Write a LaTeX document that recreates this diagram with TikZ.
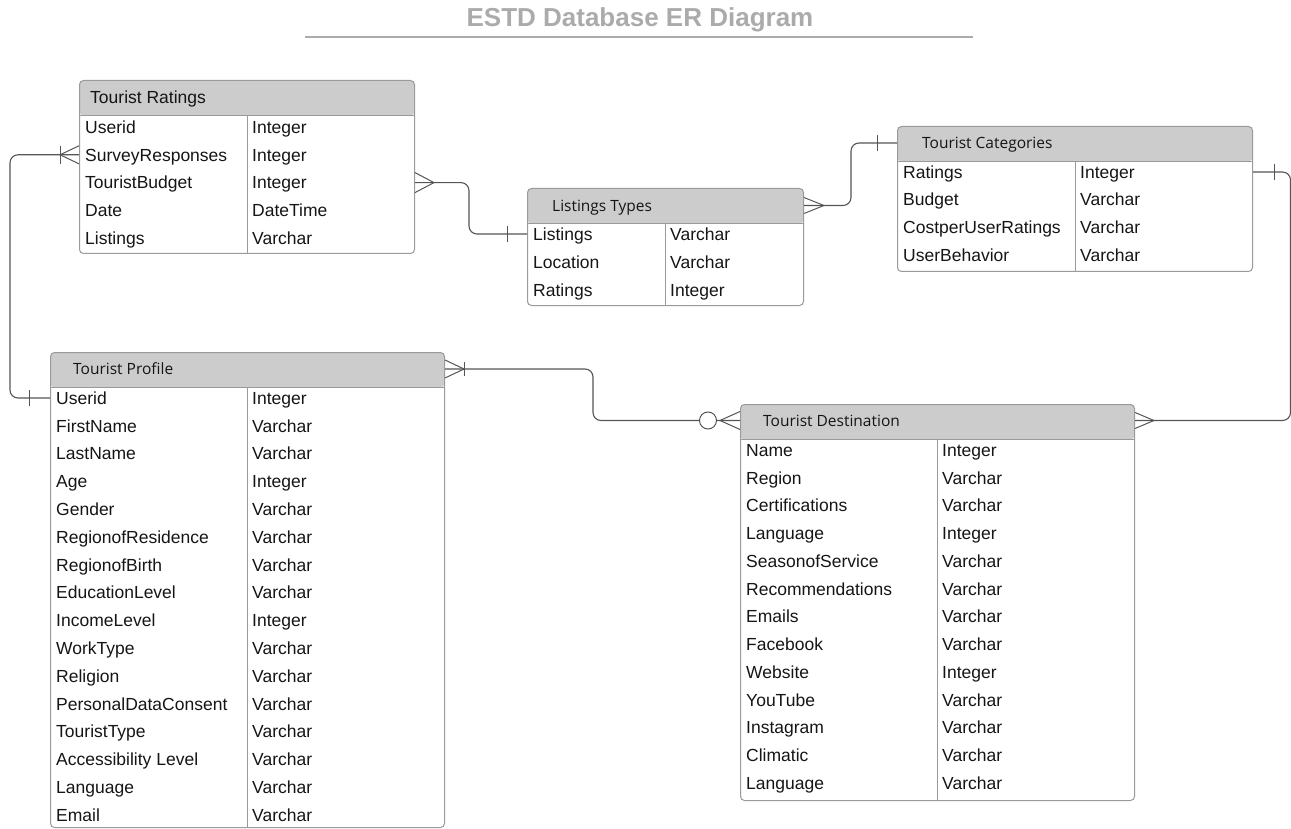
\documentclass[tikz,border=0pt]{standalone}
\usepackage{fontspec}
\setmainfont{Liberation Sans}
\newfontfamily\hdrfamily{Open Sans}
\usepackage{tikz}
\usetikzlibrary{calc}
\definecolor{er-head}{HTML}{CCCCCC}
\definecolor{er-border}{HTML}{9A9A9A}
\definecolor{er-link}{HTML}{555555}
\definecolor{er-title}{HTML}{ABABAB}
\definecolor{er-text}{HTML}{151515}

\tikzset{
  tblbox/.style={draw=er-border, line width=1pt, rounded corners=4pt, anchor=north west, inner sep=0pt,
    path picture={
      \fill[er-head] (path picture bounding box.north west) rectangle ([yshift=-35pt]path picture bounding box.north east);
      \draw[er-border, line width=1pt] ([yshift=-35pt]path picture bounding box.north west) -- ([yshift=-35pt]path picture bounding box.north east);
      \draw[er-border, line width=1pt] ([shift={(#1pt,-35pt)}]path picture bounding box.north west) -- ([xshift=#1pt]path picture bounding box.south west);
    }},
  fld/.style={anchor=west, inner sep=0pt, text height=13pt, text depth=0.5pt, text=er-text, font=\fontsize{17.5}{20}\selectfont},
  hdr/.style={anchor=west, inner sep=0pt, text height=12pt, text depth=0.5pt, text=er-text, font=\hdrfamily\fontsize{15.5}{18}\selectfont},
  link/.style={draw=er-link, line width=1.1pt, rounded corners=8pt},
  foot/.style={draw=er-link, line width=1pt},
}

\begin{document}
\begin{tikzpicture}[x=1pt, y=-1pt]
    \useasboundingbox (0,0) rectangle (1291,829);

    % title
    \node[text=er-title, font=\fontsize{26}{30}\selectfont\bfseries] (title) at (640,20) {ESTD Database ER Diagram};
    \draw[er-title, line width=1.5pt] (305,37) -- (973,37);

    % Tourist Ratings
    \node[tblbox=168, minimum width=335pt, minimum height=173pt] (ratings) at (79,80) {};
    \node[fld] (tr-title) at (90,97.5) {Tourist Ratings};
    \foreach \f/\t [count=\i] in {Userid/Integer, SurveyResponses/Integer, TouristBudget/Integer, Date/DateTime, Listings/Varchar}{
        \node[fld] (tr\i) at (85,127+27.8*\i-27.8) {\f};
        \node[fld] (trt\i) at (252,127+27.8*\i-27.8) {\t};
    }

    % Listings Types
    \node[tblbox=138, minimum width=276pt, minimum height=117pt] (listings) at (527,188) {};
    \node[hdr] (tl-title) at (552,205.5) {Listings Types};
    \foreach \f/\t [count=\i] in {Listings/Varchar, Location/Varchar, Ratings/Integer}{
        \node[fld] (tl\i) at (533,234+28*\i-28) {\f};
        \node[fld] (tlt\i) at (670,234+28*\i-28) {\t};
    }

    % Tourist Categories
    \node[tblbox=178, minimum width=355pt, minimum height=145pt] (categories) at (897,126) {};
    \node[hdr] (tc-title) at (922,143) {Tourist Categories};
    \foreach \f/\t [count=\i] in {Ratings/Integer, Budget/Varchar, CostperUserRatings/Varchar, UserBehavior/Varchar}{
        \node[fld] (tc\i) at (903,172+27.7*\i-27.7) {\f};
        \node[fld] (tct\i) at (1080,172+27.7*\i-27.7) {\t};
    }

    % Tourist Profile
    \node[tblbox=197, minimum width=394pt, minimum height=475pt] (profile) at (50,352) {};
    \node[hdr] (tp-title) at (73,369) {Tourist Profile};
    \foreach \f/\t [count=\i] in {Userid/Integer, FirstName/Varchar, LastName/Varchar, Age/Integer, Gender/Varchar,
        RegionofResidence/Varchar, RegionofBirth/Varchar, EducationLevel/Varchar, IncomeLevel/Integer, WorkType/Varchar,
        Religion/Varchar, PersonalDataConsent/Varchar, TouristType/Varchar, Accessibility Level/Varchar, Language/Varchar, Email/Varchar}{
        \node[fld] (tp\i) at (56,398+27.8*\i-27.8) {\f};
        \node[fld] (tpt\i) at (252,398+27.8*\i-27.8) {\t};
    }

    % Tourist Destination
    \node[tblbox=197, minimum width=394pt, minimum height=396pt] (destination) at (740,404) {};
    \node[hdr] (td-title) at (763,420.5) {Tourist Destination};
    \foreach \f/\t [count=\i] in {Name/Integer, Region/Varchar, Certifications/Varchar, Language/Integer, SeasonofService/Varchar,
        Recommendations/Varchar, Emails/Varchar, Facebook/Varchar, Website/Integer, YouTube/Varchar, Instagram/Varchar,
        Climatic/Varchar, Language/Varchar}{
        \node[fld] (td\i) at (746,450+27.75*\i-27.75) {\f};
        \node[fld] (tdt\i) at (942,450+27.75*\i-27.75) {\t};
    }

    % ratings -- profile
    \coordinate (e1a) at (ratings.west |- tr2);
    \coordinate (e1b) at (profile.west |- tp1);
    \draw[link] (e1a) -- ++(-69,0) |- (e1b);
    \draw[foot] ($(e1a)+(-19,-9)$) -- ++(0,18);
    \draw[foot] ($(e1a)+(0,-9)$) -- ++(-19,9) -- ++(19,9);
    \draw[foot] ($(e1b)+(-21,-8)$) -- ++(0,16);

    % ratings -- listings
    \coordinate (e2a) at (ratings.east |- tr3);
    \coordinate (e2b) at (listings.west |- tl1);
    \draw[link] (e2a) -- ++(54,0) |- (e2b);
    \draw[foot] ($(e2a)+(0,-10)$) -- ++(19,10) -- ++(-19,10);
    \draw[foot] ($(e2b)+(-20,-8)$) -- ++(0,16);

    % listings -- categories
    \coordinate (e3a) at (listings.east |- tl-title);
    \coordinate (e3b) at (categories.west |- tc-title);
    \draw[link] (e3a) -- ++(47,0) |- (e3b);
    \draw[foot] ($(e3a)+(0,-8)$) -- ++(20,8) -- ++(-20,8);
    \draw[foot] ($(e3b)+(-20,-8)$) -- ++(0,16);

    % categories -- destination
    \coordinate (e4a) at (categories.east |- tc1);
    \coordinate (e4b) at (destination.east |- td-title);
    \draw[link] (e4a) -- ++(37.5,0) |- (e4b);
    \draw[foot] ($(e4a)+(21,-8)$) -- ++(0,16);
    \draw[foot] ($(e4b)+(0,-8)$) -- ++(19,8) -- ++(-19,8);

    % profile -- destination
    \coordinate (e5a) at (profile.east |- tp-title);
    \coordinate (e5b) at (destination.west |- td-title);
    \draw[link] (e5a) -- ++(148,0) |- (e5b);
    \draw[foot] ($(e5a)+(0,-9)$) -- ++(19,9) -- ++(-19,9);
    \draw[foot] ($(e5a)+(19,-7)$) -- ++(0,14);
    \draw[foot] ($(e5b)+(0,-9)$) -- ++(-20,9) -- ++(20,9);
    \draw[foot, fill=white] ($(e5b)+(-32,0)$) circle (8.5);
\end{tikzpicture}
\end{document}
